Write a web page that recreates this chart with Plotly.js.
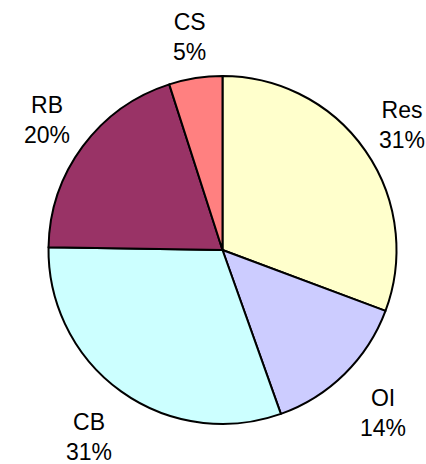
<!DOCTYPE html>
<html><head><meta charset="utf-8">
<script src="https://cdn.plot.ly/plotly-3.0.1.min.js"></script>
<style>html,body{margin:0;padding:0;background:#fff}#c{width:426px;height:464px}</style>
</head><body><div id="c"></div>
<script>
const labels = ["Res", "OI", "CB", "RB", "CS"];
const values = [31, 14, 31, 20, 5];
const colors = ["#FFFFCC", "#CCCCFF", "#CCFFFF", "#993366", "#FF8080"];

const W = 426, H = 464;
const cx = 222.5, cy = 250, r = 174;   // pie geometry in pixels

const total = values.reduce((a, b) => a + b, 0);
let cum = 0;
const annotations = values.map((v, i) => {
  const mid = (cum + v / 2) / total * 2 * Math.PI;   // clockwise from 12 o'clock
  cum += v;
  const R = 223 - 8 * Math.cos(mid);
  const px = cx + R * Math.sin(mid);
  const py = cy - R * Math.cos(mid);
  return {
    xref: "paper", yref: "paper",
    x: px / W, y: 1 - py / H,
    xanchor: "center", yanchor: "middle",
    showarrow: false,
    text: labels[i] + "<br>" + Math.round(v / total * 100) + "%",
    font: {family: "Liberation Sans, Arial, sans-serif", size: 23, color: "#000"}
  };
});

Plotly.newPlot("c", [{
  type: "pie",
  labels: labels,
  values: values,
  sort: false,
  direction: "clockwise",
  rotation: 0,
  marker: {colors: colors, line: {color: "#000", width: 2}},
  textinfo: "none",
  automargin: false,
  hoverinfo: "skip",
  domain: {x: [(cx - r) / W, (cx + r) / W], y: [1 - (cy + r) / H, 1 - (cy - r) / H]}
}], {
  width: W, height: H,
  margin: {l: 0, r: 0, t: 0, b: 0},
  showlegend: false,
  paper_bgcolor: "#fff",
  annotations: annotations
}, {staticPlot: true});
</script></body></html>
